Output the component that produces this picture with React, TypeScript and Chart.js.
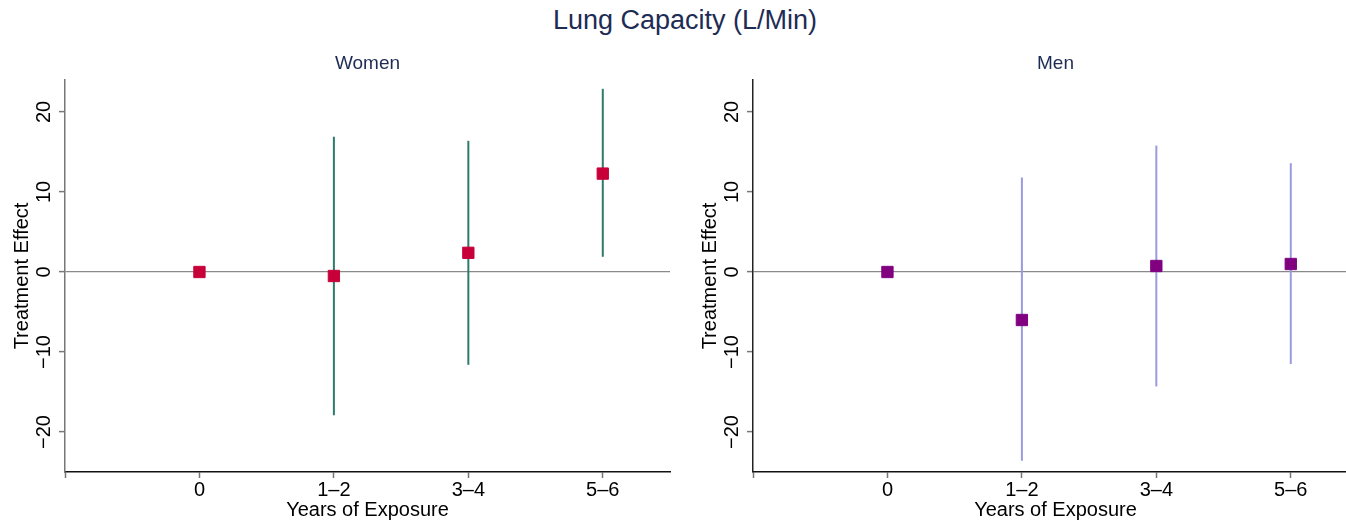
import React, { useEffect, useRef } from "react";
import { Chart, registerables } from "chart.js";

Chart.register(...registerables);

// Exposure categories (x positions 0..3), with a blank tick at -1 marking the axis start
const categories = ["0", "1–2", "3–4", "5–6"];
const xTickValues = [-1, 0, 1, 2, 3];
const yTickValues = [-20, -10, 0, 10, 20];

// Women: point estimates and confidence limits
const womenEffect = [0, -0.5, 2.4, 12.3];
const womenLow: (number | null)[] = [null, -17.9, -11.6, 1.9];
const womenHigh: (number | null)[] = [null, 16.9, 16.4, 22.9];

// Men: point estimates and confidence limits
const menEffect = [0, -6.0, 0.75, 1.0];
const menLow: (number | null)[] = [null, -23.6, -14.3, -11.5];
const menHigh: (number | null)[] = [null, 11.8, 15.8, 13.6];

const FONT = "'Liberation Sans', Arial, Helvetica, sans-serif";

type PanelProps = {
  subtitle: string;
  effect: number[];
  low: (number | null)[];
  high: (number | null)[];
  markerColor: string;
  barColor: string;
  yBorderColor: string;
  left: number;
};

const subtitlePlugin = {
  id: "panelSubtitle",
  afterDraw(chart: any, _args: any, opts: any) {
    const { ctx, chartArea } = chart;
    ctx.save();
    ctx.font = `19px ${FONT}`;
    ctx.fillStyle = "#1e2c55";
    ctx.textAlign = "center";
    ctx.textBaseline = "middle";
    ctx.fillText(opts.text, (chartArea.left + chartArea.right) / 2, 64);
    ctx.restore();
  },
};

function Panel(props: PanelProps) {
  const ref = useRef<HTMLCanvasElement | null>(null);

  useEffect(() => {
    if (!ref.current) return;
    const markers = {
      type: "scatter" as const,
      data: props.effect.map((v, i) => ({ x: i, y: v })),
      pointStyle: "rect",
      pointRadius: 8,
      pointBorderWidth: 1,
      backgroundColor: props.markerColor,
      borderColor: props.markerColor,
      order: 0,
    };
    const bars = props.effect
      .map((_, i) => i)
      .filter((i) => props.low[i] !== null && props.high[i] !== null)
      .map((i) => ({
        type: "line" as const,
        data: [
          { x: i, y: props.low[i] as number },
          { x: i, y: props.high[i] as number },
        ],
        borderColor: props.barColor,
        borderWidth: 2,
        pointRadius: 0,
        fill: false,
        order: 1,
      }));

    const chart = new Chart(ref.current, {
      type: "scatter",
      data: { datasets: [markers as any, ...(bars as any[])] },
      plugins: [subtitlePlugin],
      options: {
        animation: false,
        responsive: false,
        events: [],
        layout: { padding: { top: 80, right: 20, left: 0, bottom: 0 } },
        plugins: {
          legend: { display: false },
          tooltip: { enabled: false },
          panelSubtitle: { text: props.subtitle },
        } as any,
        scales: {
          x: {
            type: "linear",
            min: -1,
            max: 3.5,
            afterFit: (s: any) => {
              s.height = 53;
            },
            afterBuildTicks: (s: any) => {
              s.ticks = xTickValues.map((v) => ({ value: v }));
            },
            border: { display: true, color: "#111", width: 1.5 },
            grid: {
              drawOnChartArea: false,
              drawTicks: true,
              tickLength: 6,
              tickColor: "#777",
              tickWidth: 1.5,
            },
            ticks: {
              padding: 0,
              color: "#000",
              font: { family: FONT, size: 20 },
              callback: (v: any) => (v >= 0 && v < categories.length ? categories[v] : ""),
            },
            title: {
              display: true,
              text: "Years of Exposure",
              color: "#000",
              font: { family: FONT, size: 20 },
              padding: { top: 0, bottom: 3 },
            },
          },
          y: {
            type: "linear",
            min: -25,
            max: 24,
            afterFit: (s: any) => {
              s.width = 65;
            },
            afterBuildTicks: (s: any) => {
              s.ticks = yTickValues.map((v) => ({ value: v }));
            },
            border: { display: true, color: props.yBorderColor, width: 1.5 },
            grid: {
              drawOnChartArea: true,
              drawTicks: true,
              tickLength: 6,
              tickColor: "#777",
              tickWidth: 1.5,
              color: (c: any) => (c.tick && c.tick.value === 0 ? "#8a8a8a" : "rgba(0,0,0,0)"),
              lineWidth: 1.2,
            },
            ticks: {
              padding: -2,
              minRotation: 90,
              maxRotation: 90,
              crossAlign: "center",
              color: "#000",
              font: { family: FONT, size: 20 },
              callback: (v: any) => String(v).replace("-", "\u2212"),
            },
            title: {
              display: true,
              text: "Treatment Effect",
              color: "#000",
              font: { family: FONT, size: 20 },
              padding: { top: 10, bottom: 0 },
            },
          },
        },
      },
    });
    return () => chart.destroy();
  }, []);

  return (
    <canvas
      ref={ref}
      width={690}
      height={525}
      style={{ position: "absolute", left: props.left, top: 0, width: 690, height: 525 }}
    />
  );
}

export default function App() {
  return (
    <div
      style={{
        position: "fixed",
        left: 0,
        top: 0,
        width: 1346,
        height: 525,
        overflow: "hidden",
        background: "#fff",
      }}
    >
      <div
        style={{
          position: "absolute",
          left: 0,
          top: 0,
          width: 1370,
          height: 40,
          lineHeight: "40px",
          textAlign: "center",
          fontFamily: FONT,
          fontSize: 27,
          color: "#1e2c55",
        }}
      >
        Lung Capacity (L/Min)
      </div>
      <Panel
        subtitle="Women"
        effect={womenEffect}
        low={womenLow}
        high={womenHigh}
        markerColor="#c8003a"
        barColor="#2e7a6c"
        yBorderColor="#777"
        left={0}
      />
      <Panel
        subtitle="Men"
        effect={menEffect}
        low={menLow}
        high={menHigh}
        markerColor="#800080"
        barColor="#9a9ade"
        yBorderColor="#222"
        left={688}
      />
    </div>
  );
}
